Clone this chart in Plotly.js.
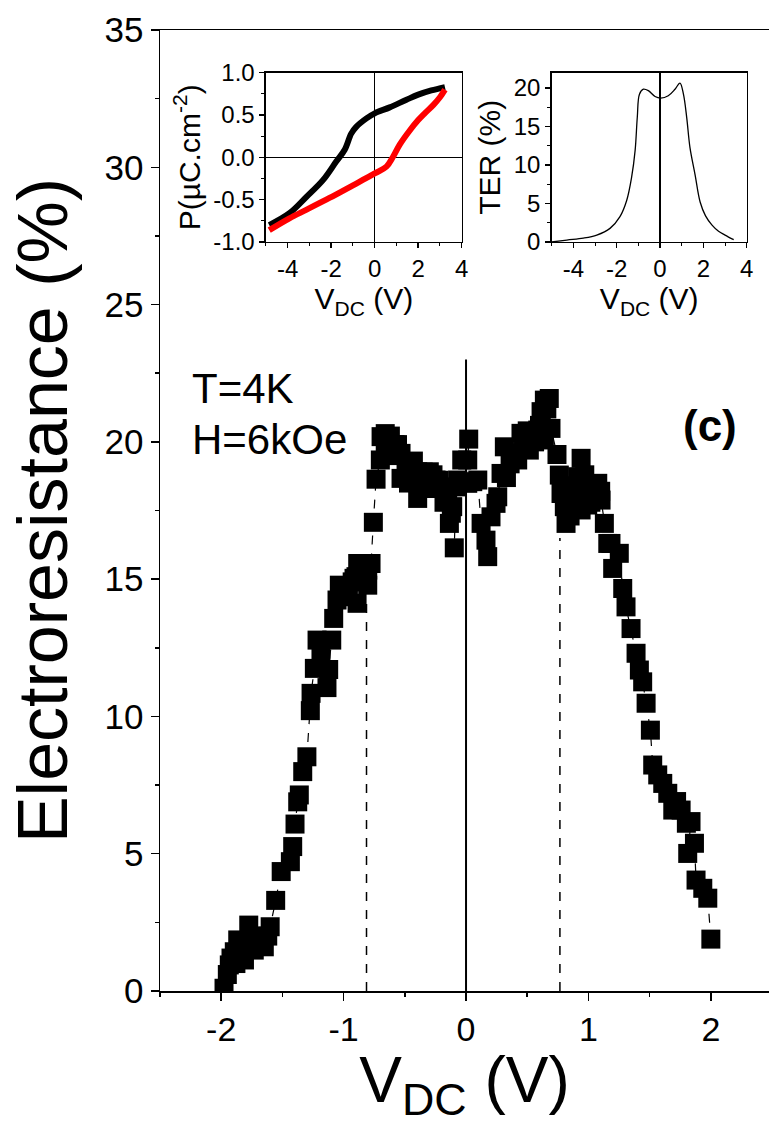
<!DOCTYPE html>
<html>
<head>
<meta charset="utf-8">
<script src="https://cdn.plot.ly/plotly-3.0.1.min.js"></script>
<style>html,body{margin:0;padding:0;background:#fff;}#chart{width:769px;height:1124px;}</style>
</head>
<body>
<div id="chart"></div>
<script>
// ---- main panel: electroresistance vs V_DC (T=4K, H=6kOe) ----
const vdc = [-1.977,-1.95,-1.934,-1.92,-1.893,-1.88,-1.865,-1.84,-1.81,-1.79,-1.775,-1.76,-1.73,-1.70,-1.67,-1.648,-1.62,-1.60,-1.555,-1.51,-1.435,-1.416,-1.397,-1.375,-1.362,-1.334,-1.30,-1.272,-1.266,-1.239,-1.217,-1.185,-1.136,-1.122,-1.097,-1.081,-1.054,-1.035,-0.99,-0.966,-0.93,-0.915,-0.899,-0.89,-0.885,-0.85,-0.831,-0.803,-0.803,-0.776,-0.757,-0.735,-0.70,-0.694,-0.66,-0.66,-0.618,-0.60,-0.58,-0.56,-0.531,-0.531,-0.49,-0.47,-0.45,-0.43,-0.42,-0.395,-0.395,-0.36,-0.35,-0.33,-0.313,-0.30,-0.28,-0.27,-0.245,-0.22,-0.20,-0.18,-0.15,-0.136,-0.12,-0.109,-0.096,-0.082,-0.068,-0.035,0.014,0.022,0.014,0.055,0.096,0.123,0.163,0.177,0.204,0.245,0.259,0.286,0.313,0.33,0.36,0.38,0.40,0.422,0.449,0.47,0.50,0.517,0.55,0.56,0.586,0.60,0.613,0.64,0.64,0.66,0.68,0.694,0.743,0.762,0.776,0.803,0.817,0.85,0.87,0.90,0.912,0.94,0.94,0.97,0.994,0.994,1.02,1.04,1.06,1.076,1.10,1.103,1.13,1.158,1.184,1.198,1.252,1.28,1.307,1.348,1.389,1.416,1.443,1.471,1.506,1.525,1.566,1.607,1.648,1.689,1.72,1.757,1.80,1.838,1.811,1.866,1.879,1.934,1.975,2.0];
const er = [0.1,0.6,0.95,1.2,1.43,1.0,1.86,1.2,1.13,1.7,2.40,1.9,1.49,2.0,1.7,1.61,2.0,2.34,3.30,4.35,4.71,5.26,6.08,6.89,7.14,7.99,8.53,10.21,10.84,11.75,12.78,12.24,11.05,11.71,12.78,13.57,14.24,14.78,14.5,14.36,14.9,15.03,15.09,14.12,15.57,15.4,15.57,14.78,15.33,15.57,17.07,18.64,19.34,20.19,20.3,19.8,20.21,19.5,19.9,19.9,19.58,18.67,19.16,18.5,19.0,19.3,18.7,18.91,17.94,18.3,18.9,18.8,18.36,18.91,18.3,18.8,18.61,18.6,18.3,17.8,18.12,17.03,17.4,17.64,16.14,18.36,18.61,19.34,19.34,20.1,18.49,18.55,18.61,17.03,16.42,15.82,17.27,17.76,18.0,18.85,19.82,18.7,19.2,19.6,19.6,19.34,20.31,19.9,20.4,19.7,20.1,20.0,20.43,20.6,21.1,21.52,20.07,21.2,21.58,20.49,19.54,18.79,18.12,17.64,17.03,17.3,18.4,18.0,18.73,19.4,17.52,18.8,18.24,17.7,17.8,18.0,18.1,18.49,18.2,17.88,17.03,16.3,16.3,15.39,15.94,14.66,13.99,13.2,12.3,11.69,11.26,10.48,9.5,8.23,7.87,7.56,7.2,6.59,6.9,6.59,6.11,6.17,5.01,5.38,4.04,3.74,3.38,1.89];

// guide lines in the main panel
const zeroLineV = [0, 0];
const zeroLineER = [0, 23.0];
const leftGuideV = [-0.813, -0.813];
const leftGuideER = [0, 14.1];
const rightGuideV = [0.767, 0.767];
const rightGuideER = [0, 16.5];

// tick labels (plain hyphen minus, as in the reference)
const mainXTicks = [-2, -1, 0, 1, 2];
const mainXLabels = ['-2', '-1', '0', '1', '2'];
const insetXTicks = [-4, -2, 0, 2, 4];
const insetXLabels = ['-4', '-2', '0', '2', '4'];
const pTicks = [-1, -0.5, 0, 0.5, 1];
const pLabels = ['-1.0', '-0.5', '0.0', '0.5', '1.0'];

// ---- inset 1: P-V loop ----
const pvBlackV = [-4.85,-3.92,-3.15,-2.38,-1.77,-1.38,-1.08,-0.85,-0.38,0,0.69,1.46,2.0,2.6,3.23];
const pvBlackP = [-0.80,-0.66,-0.47,-0.27,-0.05,0.09,0.28,0.36,0.46,0.52,0.59,0.68,0.74,0.79,0.83];
const pvRedV = [-4.85,-3.92,-3.15,-2.08,-1.0,0,0.54,0.85,1.15,1.62,2.0,2.3,2.7,3.0,3.23];
const pvRedP = [-0.86,-0.72,-0.62,-0.48,-0.33,-0.19,-0.11,0.01,0.15,0.32,0.44,0.52,0.62,0.71,0.80];

// ---- inset 2: TER vs V_DC ----
const terV = [-5,-4.3,-3.54,-2.92,-2.31,-1.85,-1.54,-1.31,-1.15,-1.05,-0.95,-0.77,-0.54,-0.23,0.03,0.38,0.69,0.92,1.08,1.23,1.38,1.62,1.85,2.1,2.4,2.7,3.0,3.4];
const terPct = [0,0.25,0.5,0.9,1.77,3.3,5.4,8.45,11.9,16.2,19.2,19.85,19.66,18.9,18.7,19.0,19.85,20.65,19.2,16.2,12.3,8.7,5.2,3.4,2.2,1.4,0.9,0.3];
const terTicks = [0, 5, 10, 15, 20];

const FONT = 'Liberation Sans, Arial, sans-serif';

const traces = [
  {x: zeroLineV, y: zeroLineER, mode:'lines', line:{color:'black', width:2}, xaxis:'x', yaxis:'y'},
  {x: leftGuideV, y: leftGuideER, mode:'lines', line:{color:'black', width:1.5, dash:'dash'}, xaxis:'x', yaxis:'y'},
  {x: rightGuideV, y: rightGuideER, mode:'lines', line:{color:'black', width:1.5, dash:'dash'}, xaxis:'x', yaxis:'y'},
  {x: vdc, y: er, mode:'lines+markers', line:{color:'black', width:1.2, dash:'dash'},
   marker:{symbol:'square', size:19, color:'black'}, xaxis:'x', yaxis:'y'},
  {x: pvBlackV, y: pvBlackP, mode:'lines', line:{color:'black', width:6, shape:'spline'}, xaxis:'x2', yaxis:'y2'},
  {x: pvRedV, y: pvRedP, mode:'lines', line:{color:'#ff0000', width:6, shape:'spline'}, xaxis:'x2', yaxis:'y2'},
  {x: terV, y: terPct, mode:'lines', line:{color:'black', width:1.3, shape:'spline'}, xaxis:'x3', yaxis:'y3'}
];

const axBase = {showline:true, linecolor:'black', linewidth:1.5, mirror:true, showgrid:false,
  ticks:'outside', tickcolor:'black', tickwidth:1.5};

const layout = {
  width:769, height:1124, showlegend:false,
  paper_bgcolor:'white', plot_bgcolor:'white',
  font:{family:FONT, color:'black'},
  margin:{l:160, r:0, t:30, b:133},
  xaxis: Object.assign({}, axBase, {
    range:[-2.5, 2.475], tickmode:'array', tickvals:mainXTicks, ticktext:mainXLabels, ticklen:8, zeroline:false,
    minor:{dtick:0.5, tick0:0, ticks:'outside', ticklen:4, tickcolor:'black', tickwidth:1.5},
    tickfont:{size:34, family:FONT},
    title:{text:'V<sub>DC</sub> (V)', font:{size:64, family:FONT}, standoff:0}
  }),
  yaxis: Object.assign({}, axBase, {
    range:[0, 35], dtick:5, tick0:0, ticklen:8, zeroline:false,
    minor:{dtick:2.5, ticks:'outside', ticklen:4, tickcolor:'black', tickwidth:1.5},
    tickfont:{size:35, family:FONT},
    title:{text:'Electroresistance (%)', font:{size:70, family:FONT}, standoff:14}
  }),
  xaxis2: Object.assign({}, axBase, {
    domain:[0.174, 0.4954], anchor:'y2', range:[-5, 4], tickmode:'array', tickvals:insetXTicks, ticktext:insetXLabels, ticklen:5,
    zeroline:true, zerolinecolor:'black', zerolinewidth:1,
    minor:{dtick:1, tick0:0, ticks:'outside', ticklen:3, tickcolor:'black', tickwidth:1},
    tickfont:{size:24, family:FONT},
    title:{text:'V<sub>DC</sub> (V)', font:{size:30, family:FONT}, standoff:6}
  }),
  yaxis2: Object.assign({}, axBase, {
    domain:[0.7794, 0.9556], anchor:'x2', range:[-1, 1], tickmode:'array', tickvals:pTicks, ticktext:pLabels, ticklen:5,
    zeroline:true, zerolinecolor:'black', zerolinewidth:1,
    minor:{dtick:0.25, tick0:0, ticks:'outside', ticklen:3, tickcolor:'black', tickwidth:1},
    tickfont:{size:24, family:FONT},
    title:{text:'P(µC.cm<sup>-2</sup>)', font:{size:30, family:FONT}, standoff:4}
  }),
  xaxis3: Object.assign({}, axBase, {
    domain:[0.6432, 0.9634], anchor:'y3', range:[-5, 4], tickmode:'array', tickvals:insetXTicks, ticktext:insetXLabels, ticklen:5,
    zeroline:true, zerolinecolor:'black', zerolinewidth:1.3,
    minor:{dtick:1, tick0:0, ticks:'outside', ticklen:3, tickcolor:'black', tickwidth:1},
    tickfont:{size:24, family:FONT},
    title:{text:'V<sub>DC</sub> (V)', font:{size:30, family:FONT}, standoff:6}
  }),
  yaxis3: Object.assign({}, axBase, {
    domain:[0.7794, 0.9556], anchor:'x3', range:[0, 22], tickmode:'array', tickvals:terTicks, ticklen:5,
    zeroline:false,
    minor:{dtick:2.5, tick0:0, ticks:'outside', ticklen:3, tickcolor:'black', tickwidth:1},
    tickfont:{size:24, family:FONT},
    title:{text:'TER (%)', font:{size:30, family:FONT}, standoff:4}
  }),
  annotations:[
    {xref:'x', yref:'y', x:-2.255, y:21.96, xanchor:'left', yanchor:'middle', showarrow:false,
     text:'T=4K', font:{size:42, family:FONT, color:'black'}},
    {xref:'x', yref:'y', x:-2.255, y:20.07, xanchor:'left', yanchor:'middle', showarrow:false,
     text:'H=6kOe', font:{size:42, family:FONT, color:'black'}},
    {xref:'x', yref:'y', x:1.993, y:20.58, xanchor:'center', yanchor:'middle', showarrow:false,
     text:'<b>(c)</b>', font:{size:44, family:FONT, color:'black'}}
  ]
};

Plotly.newPlot('chart', traces, layout, {staticPlot:true, displayModeBar:false});
</script>
</body>
</html>
